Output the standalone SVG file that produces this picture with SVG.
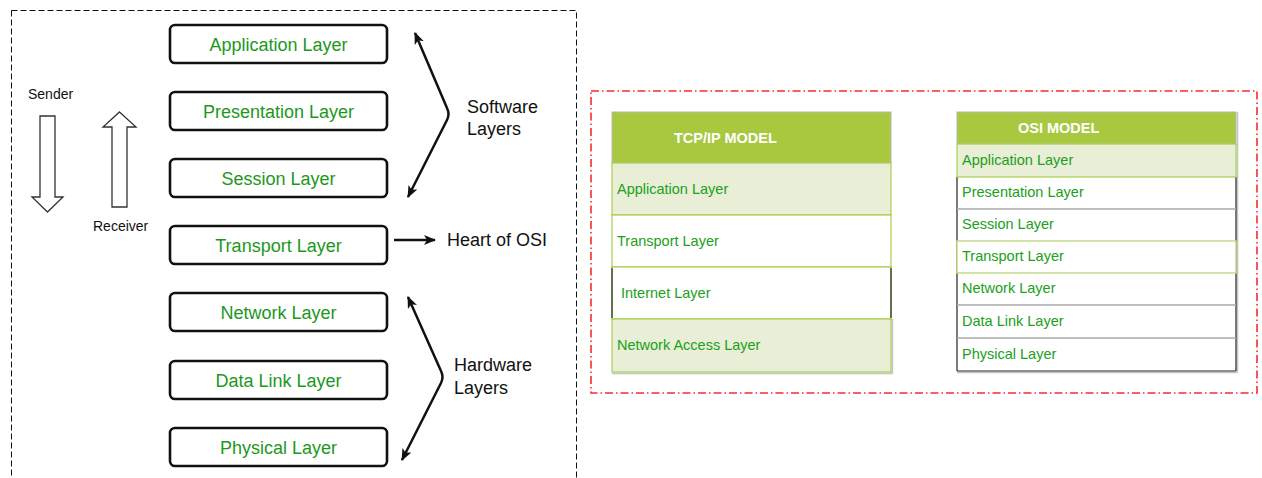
<svg xmlns="http://www.w3.org/2000/svg" width="1262" height="478" viewBox="0 0 1262 478">
  <style>
    .frame { fill: none; stroke: #111; stroke-width: 1; stroke-dasharray: 6 3; }
    .layer rect { fill: #fff; stroke: #111; stroke-width: 2.6; }
    .layer text { font-family: "Liberation Sans", Arial, sans-serif; font-size: 18px; fill: #1c981c; text-anchor: middle; }
    .lbl { font-family: "Liberation Sans", Arial, sans-serif; fill: #111; }
    .flow { fill: #fff; stroke: #333; stroke-width: 1.3; stroke-linejoin: miter; }
    .conn { fill: none; stroke: #111; stroke-width: 2.5; stroke-linejoin: round; }
    .hdr { fill: #a8c83f; stroke: #b8b8b8; stroke-width: 1; }
    .hdr-text { font-family: "Liberation Sans", Arial, sans-serif; font-size: 14.5px; font-weight: bold; fill: #fff; }
    .cell-text { font-family: "Liberation Sans", Arial, sans-serif; font-size: 14.5px; fill: #20a020; }
    .tint { fill: #e9efd6; stroke: #a9cd4d; stroke-width: 1.2; }
    .plain { fill: #fff; stroke: #a9cd4d; stroke-width: 1.2; }
    .blk { stroke: #222; stroke-width: 1.2; fill: none; }
    .gry { stroke: #aaa; stroke-width: 1.5; fill: none; }
    .shadow { stroke: #c4c4c4; stroke-width: 1.5; fill: none; }
  </style>
  <defs>
    <marker id="head" viewBox="0 0 12 10" refX="11" refY="5" markerWidth="12" markerHeight="10" markerUnits="userSpaceOnUse" orient="auto-start-reverse">
      <path d="M0,0 L12,5 L0,10 L3,5 Z" fill="#111"/>
    </marker>
  </defs>

  <rect x="0" y="0" width="1262" height="478" fill="#fff"/>

  <!-- OSI stack panel -->
  <rect class="frame" x="11.5" y="10.5" width="565" height="500"/>

  <g id="sender">
    <text class="lbl" x="28" y="99" font-size="14">Sender</text>
    <polygon class="flow" points="40,116 55,116 55,197 63,197 47.5,212 32,197 40,197"/>
  </g>
  <g id="receiver">
    <polygon class="flow" points="119.5,112 136,127 127,127 127,207 112,207 112,127 103,127"/>
    <text class="lbl" x="93" y="231" font-size="14">Receiver</text>
  </g>

  <g id="application-layer" class="layer"><rect x="170" y="25" width="217" height="38" rx="5"/><text x="278.5" y="50.5">Application Layer</text></g>
  <g id="presentation-layer" class="layer"><rect x="170" y="92" width="217" height="38" rx="5"/><text x="278.5" y="117.5">Presentation Layer</text></g>
  <g id="session-layer" class="layer"><rect x="170" y="159" width="217" height="38" rx="5"/><text x="278.5" y="184.5">Session Layer</text></g>
  <g id="transport-layer" class="layer"><rect x="170" y="226" width="217" height="38" rx="5"/><text x="278.5" y="251.5">Transport Layer</text></g>
  <g id="network-layer" class="layer"><rect x="170" y="293" width="217" height="38" rx="5"/><text x="278.5" y="318.5">Network Layer</text></g>
  <g id="data-link-layer" class="layer"><rect x="170" y="361" width="217" height="38" rx="5"/><text x="278.5" y="386.5">Data Link Layer</text></g>
  <g id="physical-layer" class="layer"><rect x="170" y="428" width="217" height="38" rx="5"/><text x="278.5" y="453.5">Physical Layer</text></g>

  <g id="software-label"><text class="lbl" font-size="18"><tspan x="467" y="113">Software</tspan><tspan x="467" y="135">Layers</tspan></text></g>
  <g id="heart-label"><text class="lbl" font-size="18" x="447" y="246">Heart of OSI</text></g>
  <g id="hardware-label"><text class="lbl" font-size="18"><tspan x="454" y="371">Hardware</tspan><tspan x="454" y="394">Layers</tspan></text></g>

  <g id="connectors">
    <path class="conn" d="M415,33 L447,108 Q450,114 447,120 L408,197" marker-start="url(#head)" marker-end="url(#head)"/>
    <path class="conn" d="M394,240 L435,240" marker-end="url(#head)"/>
    <path class="conn" d="M408,297 L441,371 Q444,377 441,383 L402,460" marker-start="url(#head)" marker-end="url(#head)"/>
  </g>

  <!-- model comparison panel, red dash-dot border -->
  <rect x="591" y="91" width="666" height="302" fill="none" stroke="#ff2a2a" stroke-width="1.6" stroke-dasharray="8 3 1.5 3"/>

  <g id="tcpip-model">
    <rect class="hdr" x="612" y="112" width="279" height="51"/>
    <text class="hdr-text" x="674" y="143">TCP/IP MODEL</text>
    <line class="shadow" x1="892.5" y1="319" x2="892.5" y2="373.5"/>
    <line class="shadow" x1="612" y1="373.5" x2="892.5" y2="373.5"/>
    <rect class="tint" x="612" y="163" width="279" height="52"/>
    <text class="cell-text" x="617" y="194">Application Layer</text>
    <rect class="plain" x="612" y="215" width="279" height="52"/>
    <text class="cell-text" x="617" y="246">Transport Layer</text>
    <rect class="plain" x="612" y="267" width="279" height="52"/>
    <line class="blk" x1="612" y1="268" x2="612" y2="318"/>
    <line class="blk" x1="891" y1="268" x2="891" y2="318"/>
    <text class="cell-text" x="621" y="298">Internet Layer</text>
    <rect class="tint" x="612" y="319" width="279" height="53"/>
    <text class="cell-text" x="617" y="350">Network Access Layer</text>
  </g>

  <g id="osi-model">
    <line class="shadow" x1="1237.5" y1="112" x2="1237.5" y2="372.5"/>
    <line class="shadow" x1="957" y1="372.5" x2="1237.5" y2="372.5"/>
    <rect class="hdr" x="957" y="112" width="279" height="32"/>
    <text class="hdr-text" x="1018" y="133">OSI MODEL</text>
    <rect fill="#fff" x="957" y="144" width="279" height="227"/>
    <line class="blk" x1="957" y1="177" x2="957" y2="371"/>
    <line class="blk" x1="1236" y1="177" x2="1236" y2="371"/>
    <line class="blk" x1="957" y1="371" x2="1236" y2="371"/>
    <line class="gry" x1="957" y1="209" x2="1236" y2="209"/>
    <line class="gry" x1="957" y1="305" x2="1236" y2="305"/>
    <line class="gry" x1="957" y1="338" x2="1236" y2="338"/>
    <rect x="957" y="241" width="279" height="32" fill="#fff" stroke="#c3dc8b" stroke-width="1.5"/>
    <rect class="tint" x="957" y="144" width="279" height="33"/>
    <text class="cell-text" x="962" y="165">Application Layer</text>
    <text class="cell-text" x="962" y="197">Presentation Layer</text>
    <text class="cell-text" x="962" y="229">Session Layer</text>
    <text class="cell-text" x="962" y="261">Transport Layer</text>
    <text class="cell-text" x="962" y="293">Network Layer</text>
    <text class="cell-text" x="962" y="326">Data Link Layer</text>
    <text class="cell-text" x="962" y="359">Physical Layer</text>
  </g>
</svg>
